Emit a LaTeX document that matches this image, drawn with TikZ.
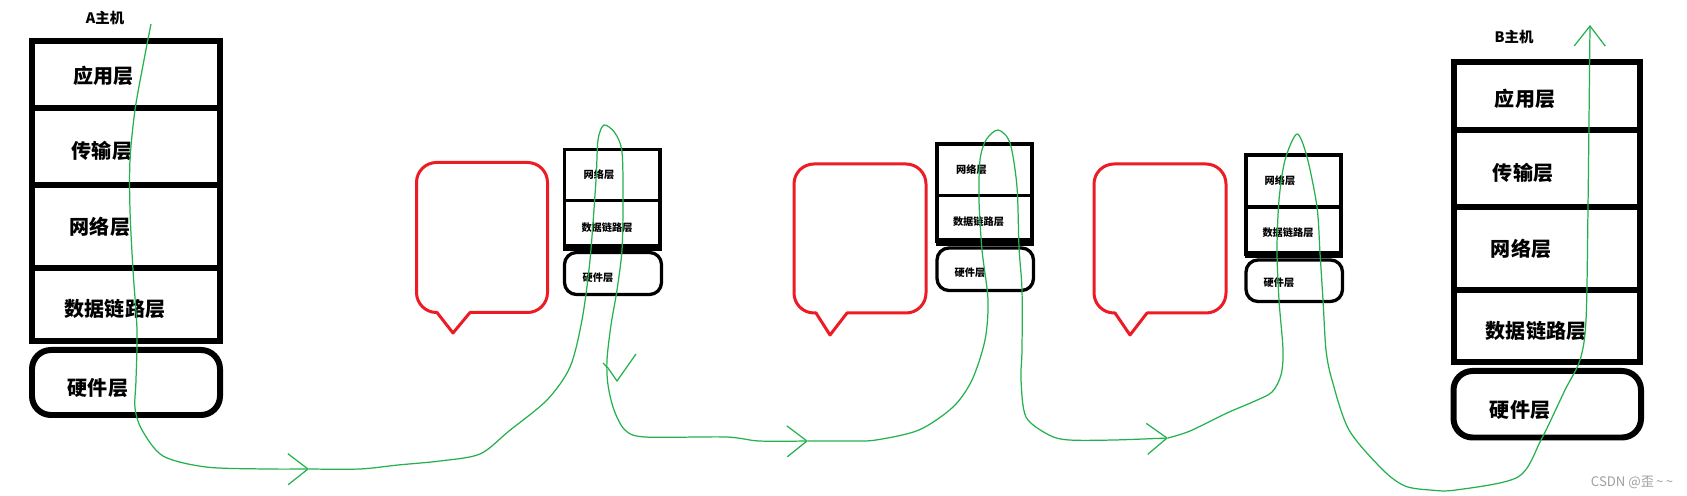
\documentclass[tikz,border=0pt]{standalone}
\usepackage{fontspec}
\newfontfamily\cjk{Noto Sans CJK SC}
\usetikzlibrary{arrows.meta}
\definecolor{paintgreen}{RGB}{34,177,76}
\definecolor{paintred}{RGB}{237,28,36}
\tikzset{host/.style = {line width=0.12cm},
         hostbase/.style = {line width=0.12cm, rounded corners=0.38cm},
         router/.style = {line width=0.066cm},
         routerbase/.style = {line width=0.066cm, rounded corners=0.24cm},
         bigtxt/.style = {font=\cjk\bfseries\fontsize{11.4}{12}\selectfont, inner sep=0pt},
         smalltxt/.style = {font=\cjk\bfseries\fontsize{5.8}{6}\selectfont, inner sep=0pt},
         hosttxt/.style = {font=\cjk\bfseries\fontsize{8.2}{9}\selectfont, inner sep=0pt},
         callout/.style = {paintred, line width=0.06cm, line join=round, line cap=round},
         route/.style = {paintgreen, line width=0.7pt,
                         -{Straight Barb[length=0.4cm, width=0.62cm]}}}

\begin{document}
\begin{tikzpicture}[x=0.02cm, y=-0.02cm]
  \useasboundingbox (0,0) rectangle (1687,496);

  % A host
  \node[hosttxt] (a-name) at (105,18) {A主机};
  \draw[host] (32,41) rectangle (219.5,341);
  \foreach \y in {108,185,268}
    \draw[host] (32,\y) -- (219.5,\y);
  \draw[hostbase] (32,350) rectangle (220,415);
  \node[bigtxt] (a-app) at (103.5,76) {应用层};
  \node[bigtxt] (a-trans) at (102,151) {传输层};
  \node[bigtxt] (a-net) at (100,227) {网络层};
  \node[bigtxt] (a-link) at (115,309) {数据链路层};
  \node[bigtxt] (a-hw) at (98,388) {硬件层};

  % B host
  \node[hosttxt] (b-name) at (1514,37) {B主机};
  \draw[host] (1453.5,62.5) rectangle (1640,362.5);
  \foreach \y in {130,207.5,290}
    \draw[host] (1453.5,\y) -- (1640,\y);
  \draw[hostbase] (1453.5,371) rectangle (1641,437.5);
  \node[bigtxt] (b-app) at (1525,99) {应用层};
  \node[bigtxt] (b-trans) at (1523,173) {传输层};
  \node[bigtxt] (b-net) at (1521,249) {网络层};
  \node[bigtxt] (b-link) at (1536,331) {数据链路层};
  \node[bigtxt] (b-hw) at (1520,410) {硬件层};

  % routers
  \draw[router] (564.5,149.5) rectangle (660,247);
  \draw[router] (564.5,200.5) -- (660,200.5);
  \fill (563,244) rectangle (662,251);
  \draw[routerbase] (564.5,252.5) rectangle (661.5,294.5);
  \node[smalltxt] (r1-net) at (599,175) {网络层};
  \node[smalltxt] (r1-link) at (607,228) {数据链路层};
  \node[smalltxt] (r1-hw) at (598,278) {硬件层};

  \draw[router] (937,144) rectangle (1032,241);
  \draw[router] (937,195.5) -- (1032,195.5);
  \fill (935.5,238) rectangle (1033.5,246);
  \draw[routerbase] (937,248) rectangle (1033.5,290.5);
  \node[smalltxt] (r2-net) at (971.5,170) {网络层};
  \node[smalltxt] (r2-link) at (978.5,222) {数据链路层};
  \node[smalltxt] (r2-hw) at (970,273) {硬件层};

  \draw[router] (1246,155) rectangle (1341,254);
  \draw[router] (1246,207) -- (1341,207);
  \fill (1244.5,251) rectangle (1342.5,258);
  \draw[routerbase] (1246,260) rectangle (1342.5,301.5);
  \node[smalltxt] (r3-net) at (1280,181) {网络层};
  \node[smalltxt] (r3-link) at (1288,233) {数据链路层};
  \node[smalltxt] (r3-hw) at (1279,283) {硬件层};

  % callouts
  \draw[callout, rounded corners=0.4cm] (470,312.5) -- (547.5,312.5) -- (547.5,162.5)
    -- (416.5,162.5) -- (416.5,312.5) -- (437,312.5);
  \draw[callout] (437,312.5) -- (453,333) -- (470,312.5);
  \draw[callout, rounded corners=0.4cm] (847,313) -- (926,313) -- (926,164)
    -- (794,164) -- (794,313) -- (816,313);
  \draw[callout] (816,313) -- (830,335) -- (847,313);
  \draw[callout, rounded corners=0.4cm] (1147,313) -- (1226,313) -- (1226,164)
    -- (1094,164) -- (1094,313) -- (1115,313);
  \draw[callout] (1115,313) -- (1130,335) -- (1147,313);

  % route of the data
  \coordinate (start) at (151,24);
  \coordinate (tip1) at (309,469);
  \coordinate (tip2) at (808,441);
  \coordinate (tip3) at (1168,438);
  \coordinate (finish) at (1590,25);
  \draw[route] plot[smooth] coordinates {(start) (144,60) (135,110) (130,160) (130,210)
    (133,270) (137,330) (136,380) (135,408) (142,430) (163,456) (206,467) (266,469) (tip1)};
  \draw[route] plot[smooth] coordinates {(tip1) (360,469) (398,465) (440,461) (480,454)
    (509,431) (547,400) (570,367) (582,320) (590,260) (596,180) (598,140) (604,125)
    (615,133) (622,152) (623,200) (622,250) (617,290) (611,325) (607,360) (608,385)
    (614,410) (625,430) (645,437) (726,437) (759,441) (tip2)};
  \draw[route] plot[smooth] coordinates {(tip2) (850,441) (876,440) (919,430) (953,407)
    (972,380) (985,340) (988,300) (982,250) (979,200) (980,160) (986,140) (998,130)
    (1010,143) (1017,187) (1019,247) (1022,290) (1022,350) (1021,380) (1026,417)
    (1049,435) (1069,440) (1114,440) (tip3)};
  \draw[route] plot[smooth] coordinates {(tip3) (1190,431) (1227,413) (1255,401)
    (1272,392) (1281,375) (1283,350) (1279,300) (1277,250) (1279,200) (1285,160)
    (1297,134) (1307,157) (1317,207) (1320,253) (1323,300) (1326,350) (1332,380)
    (1349,430) (1383,470) (1405,486) (1430,490) (1456,490) (1518,477) (1541,440)
    (1565,390) (1580,360) (1586,320) (1588,207) (finish)};
  \draw[paintgreen, line width=0.7pt] (603,363) -- (608,368) -- (617,381) -- (636,354);

  \node[font=\cjk\fontsize{7.5}{8}\selectfont, text=gray!75, inner sep=0pt] (mark)
    at (1632,482) {CSDN @歪\,\textasciitilde\,\textasciitilde};
\end{tikzpicture}
\end{document}
